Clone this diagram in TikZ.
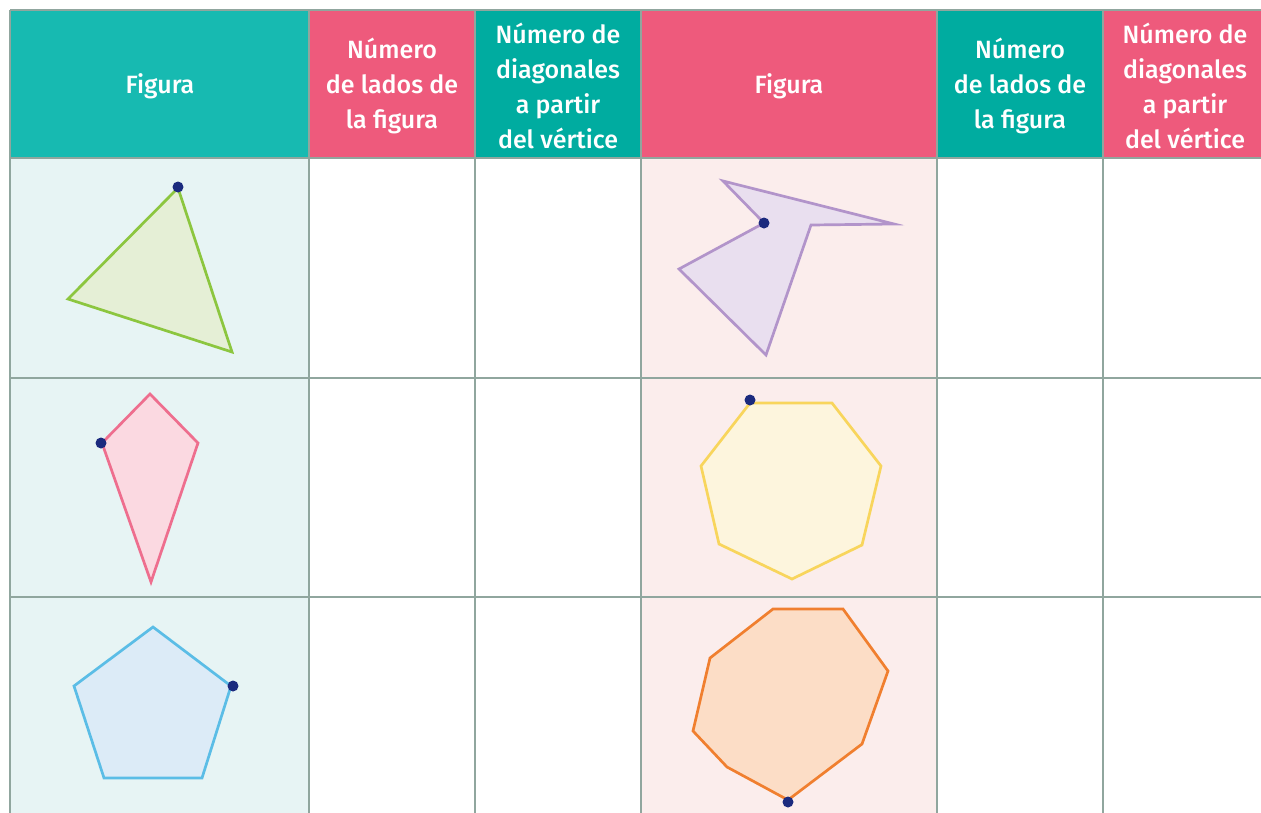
\documentclass[tikz,border=0pt]{standalone}
\usepackage{fontspec}
\setmainfont{Fira Sans}[UprightFont={* Medium}]
\definecolor{tealA}{HTML}{17BAB1}
\definecolor{tealB}{HTML}{00ACA0}
\definecolor{pinkH}{HTML}{EE5A7C}
\definecolor{lteal}{HTML}{E7F4F4}
\definecolor{lpink}{HTML}{FBEDEC}
\definecolor{gridc}{HTML}{90A69E}
\definecolor{dotc}{HTML}{1B2A7E}
\definecolor{grS}{HTML}{8CC63F}\definecolor{grF}{HTML}{E5EFD6}
\definecolor{puS}{HTML}{B294CA}\definecolor{puF}{HTML}{E9DFEF}
\definecolor{piS}{HTML}{EE6E8E}\definecolor{piF}{HTML}{FBD9E1}
\definecolor{yeS}{HTML}{F8D55C}\definecolor{yeF}{HTML}{FDF5DD}
\definecolor{blS}{HTML}{5BBDE6}\definecolor{blF}{HTML}{DCEBF7}
\definecolor{orS}{HTML}{F07F2F}\definecolor{orF}{HTML}{FCDDC6}
\begin{document}
\begin{tikzpicture}[x=1pt,y=-1pt,
  hdr/.style={text=white, align=center, font=\fontsize{25}{35}\selectfont, inner sep=0pt},
  gridline/.style={draw=gridc, line width=2.5pt},
  fig/.style={line width=2.7pt, line join=miter},
  vdot/.style={fill=dotc, circle, inner sep=0pt, minimum size=11pt}]
\useasboundingbox (0,0) rectangle (1261,812);
\clip (0,0) rectangle (1261,812);
% header backgrounds
\fill[tealA] (10,10) rectangle (309,158);
\fill[pinkH] (309,10) rectangle (475,158);
\fill[tealB] (475,10) rectangle (641,158);
\fill[pinkH] (641,10) rectangle (937,158);
\fill[tealB] (937,10) rectangle (1103,158);
\fill[pinkH] (1103,10) rectangle (1280,158);
% body backgrounds
\fill[lteal] (10,158) rectangle (309,830);
\fill[lpink] (641,158) rectangle (937,830);
% grid
\foreach \y in {10,158,378,597} \draw[gridline] (10,\y) -- (1280,\y);
\foreach \x in {10,309,475,641,937,1103} \draw[gridline] (\x,10) -- (\x,830);
% header texts
\node[hdr] (h1) at (160,86) {Figura};
\node[hdr] (h2) at (392,86) {Número\\de lados de\\la figura};
\node[hdr] (h3) at (558,86) {Número de\\diagonales\\a partir\\del vértice};
\node[hdr] (h4) at (789,86) {Figura};
\node[hdr] (h5) at (1020,86) {Número\\de lados de\\la figura};
\node[hdr] (h6) at (1185,86) {Número de\\diagonales\\a partir\\del vértice};
% triangle
\draw[fig, draw=grS, fill=grF] (178,188) -- (68,299) -- (232,352) -- cycle;
\node[vdot] (d1) at (178,187) {};
% concave hexagon
\draw[fig, draw=puS, fill=puF] (764,223) -- (723,181) -- (894,224) -- (811,225) -- (766,355) -- (679,269) -- cycle;
\node[vdot] (d2) at (764,223) {};
% kite
\draw[fig, draw=piS, fill=piF] (150,394) -- (198,443) -- (151,582) -- (102,443) -- cycle;
\node[vdot] (d3) at (101,443) {};
% heptagon
\draw[fig, draw=yeS, fill=yeF] (750,403) -- (832,403) -- (881,466) -- (862,545) -- (792,579) -- (719,544) -- (701,466) -- cycle;
\node[vdot] (d4) at (750,400) {};
% pentagon
\draw[fig, draw=blS, fill=blF] (153,627) -- (231,686) -- (202,778) -- (104,778) -- (74,686) -- cycle;
\node[vdot] (d5) at (233,686) {};
% octagon
\draw[fig, draw=orS, fill=orF] (773,609) -- (843,609) -- (888,671) -- (862,744) -- (788,800) -- (727,767) -- (693,731) -- (710,658) -- cycle;
\node[vdot] (d6) at (788,802) {};
\end{tikzpicture}
\end{document}
